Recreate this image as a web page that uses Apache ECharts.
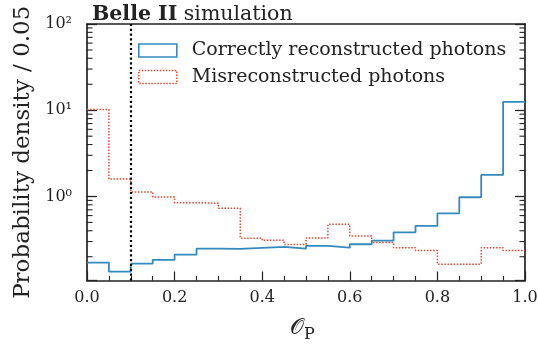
<!DOCTYPE html>
<html><head><meta charset="utf-8">
<script src="https://cdn.jsdelivr.net/npm/echarts@6/dist/echarts.min.js"></script>
<style>html,body{margin:0;padding:0;background:#fff}#c{width:538px;height:347px}</style>
</head><body><div id="c"></div>
<script>
// Histogram bin edges (width 0.05)
const binEdges = [0.00,0.05,0.10,0.15,0.20,0.25,0.30,0.35,0.40,0.45,0.50,0.55,0.60,0.65,0.70,0.75,0.80,0.85,0.90,0.95,1.00];
// Probability density per bin
const correctPhotons = [0.171,0.134,0.166,0.184,0.211,0.248,0.246,0.253,0.260,0.248,0.267,0.255,0.279,0.307,0.384,0.455,0.638,0.979,1.775,12.47];
const misrecoPhotons = [10.2,1.59,1.13,0.987,0.848,0.834,0.730,0.328,0.310,0.277,0.330,0.475,0.348,0.292,0.255,0.236,0.164,0.164,0.255,0.236];
const seriesNames = ['Correctly reconstructed photons','Misreconstructed photons'];
const xTickValues = [0.0,0.2,0.4,0.6,0.8,1.0];
const xTickLabels = ['0.0','0.2','0.4','0.6','0.8','1.0'];
const yTickValues = [1,10,100];
const yTickLabels = ['10⁰','10¹','10²'];
const yMinorValues = [0.2,0.3,0.4,0.5,0.6,0.7,0.8,0.9,2,3,4,5,6,7,8,9,20,30,40,50,60,70,80,90];
const cutValue = 0.1;
const yMin = 0.106, yMax = 100;

const serif = "'DejaVu Serif', serif";
const ink = '#222';
const BLUE = '#348ABD', RED = '#E24A33';

function stepData(vals){
  const d = vals.map((v,i)=>[binEdges[i], v]);
  d.push([binEdges[binEdges.length-1], vals[vals.length-1]]);
  return d;
}
const chart = echarts.init(document.getElementById('c'), null, {renderer:'canvas'});
chart.setOption({
  animation:false,
  backgroundColor:'#fff',
  grid:{left:87,right:13,top:24,bottom:66.5,containLabel:false,outerBoundsMode:'none'},
  title:{
    text:'{b|Belle II} simulation', left:87, top:-1,
    textStyle:{fontFamily:serif,fontSize:20.5,fontWeight:'normal',color:ink,
      rich:{b:{fontFamily:serif,fontSize:20.5,fontWeight:'bold',color:ink}}}
  },
  legend:{
    orient:'vertical', left:133, top:36, itemGap:7.5, itemWidth:38, itemHeight:13,
    icon:'rect',
    textStyle:{fontFamily:serif,fontSize:19,color:ink,padding:[0,0,0,10]},
    data:[
      {name:seriesNames[0], itemStyle:{color:'rgba(0,0,0,0)',borderColor:BLUE,borderWidth:1.6}},
      {name:seriesNames[1], itemStyle:{color:'rgba(0,0,0,0)',borderColor:RED,borderWidth:1.5,borderType:[1.5,1.5]}}
    ]
  },
  xAxis:[{
    type:'value', min:0, max:1, interval:0.2, position:'bottom',
    name:'{o|𝒪}{p|P}', nameLocation:'middle', nameGap:33,
    nameTextStyle:{rich:{o:{fontFamily:"'DejaVu Sans', 'DejaVu Serif'",fontSize:22,color:ink},
                         p:{fontFamily:serif,fontSize:16,color:ink,padding:[13,7,0,0]}}},
    axisLine:{show:true,onZero:false,lineStyle:{color:ink,width:1.7}},
    axisTick:{show:true,inside:true,length:9,lineStyle:{color:ink,width:1.2}},
    minorTick:{show:true,splitNumber:4,length:4.5,lineStyle:{color:ink,width:1.1}},
    axisLabel:{fontFamily:serif,fontSize:16,color:ink,margin:9,
      formatter:v=>{const i=xTickValues.findIndex(t=>Math.abs(t-v)<1e-9);return i>=0?xTickLabels[i]:'';}},
    splitLine:{show:false}
  },{
    type:'value', min:0, max:1, position:'top', gridIndex:0,
    axisLine:{show:true,onZero:false,lineStyle:{color:ink,width:1.7}},
    axisTick:{show:false}, axisLabel:{show:false}, splitLine:{show:false}
  }],
  yAxis:[{
    type:'log', logBase:10, min:yMin, max:yMax, position:'left',
    name:'Probability density / 0.05', nameLocation:'middle', nameGap:49, nameRotate:90,
    nameTextStyle:{fontFamily:serif,fontSize:23,color:ink},
    axisLine:{show:true,onZero:false,lineStyle:{color:ink,width:1.7}},
    axisTick:{show:true,inside:true,length:10,lineStyle:{color:ink,width:1.3}},
    minorTick:{show:false},
    axisLabel:{fontFamily:serif,fontSize:16,color:ink,margin:15,
      formatter:v=>{const i=yTickValues.findIndex(t=>Math.abs(t-v)<1e-6*t);return i>=0?yTickLabels[i]:'';}},
    splitLine:{show:false}
  },{
    type:'log', logBase:10, min:yMin, max:yMax, position:'right',
    axisLine:{show:true,onZero:false,lineStyle:{color:ink,width:1.7}},
    axisTick:{show:true,inside:true,length:10,lineStyle:{color:ink,width:1.3}},
    axisLabel:{show:false}, splitLine:{show:false}
  }],
  series:[{
    name:seriesNames[0], type:'line', step:'end', xAxisIndex:0, yAxisIndex:0,
    data:stepData(correctPhotons), symbol:'none', showSymbol:false,
    lineStyle:{color:BLUE,width:1.8}, itemStyle:{color:BLUE}, z:3,
    markLine:{silent:true, symbol:['none','none'], label:{show:false},
      lineStyle:{color:'#000',width:2.2,type:[2.2,2.6]},
      data:[{xAxis:cutValue}]}
  },{
    name:seriesNames[1], type:'line', step:'end', xAxisIndex:0, yAxisIndex:0,
    data:stepData(misrecoPhotons), symbol:'none', showSymbol:false,
    lineStyle:{color:RED,width:1.5,type:[1.5,1.6]}, itemStyle:{color:RED}, z:4
  },{
    // minor log ticks on left and right frame edges
    name:'minorTicks', type:'custom', xAxisIndex:0, yAxisIndex:0, silent:true, clip:false, z:5,
    data:yMinorValues.map(v=>[v]),
    renderItem:(params, api)=>{
      const v = api.value(0);
      const l = api.coord([0, v]), r = api.coord([1, v]);
      const st = {stroke:ink, lineWidth:1.1};
      return {type:'group', children:[
        {type:'line', shape:{x1:l[0], y1:l[1], x2:l[0]+5.5, y2:l[1]}, style:st},
        {type:'line', shape:{x1:r[0]-5.5, y1:r[1], x2:r[0], y2:r[1]}, style:st}
      ]};
    }
  }]
});
</script></body></html>
